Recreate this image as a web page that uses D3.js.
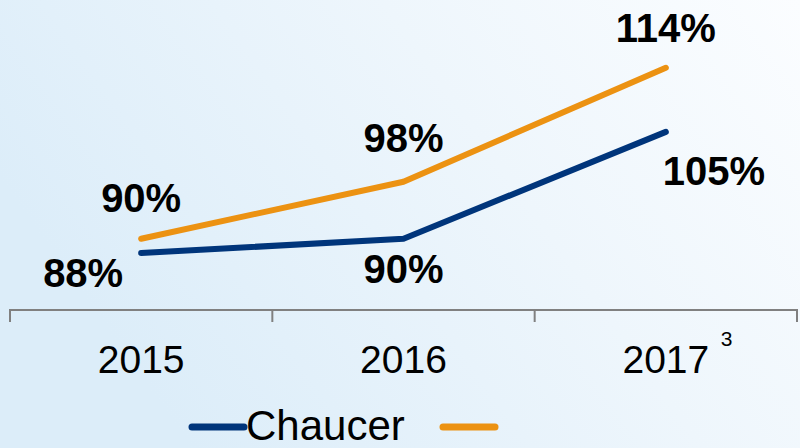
<!DOCTYPE html>
<html>
<head>
<meta charset="utf-8">
<script src="https://cdn.jsdelivr.net/npm/d3@7"></script>
<style>
  html, body { margin: 0; padding: 0; }
  body { width: 800px; height: 448px; overflow: hidden; }
  text { font-family: "Liberation Sans", Arial, sans-serif; }
</style>
</head>
<body>
<div id="chart"></div>
<script>
'use strict';

// chart data
const years = ['2015', '2016', '2017'];
const chaucer = [88, 90, 105];
const market = [90, 98, 114];
const seriesNames = ['Chaucer', ''];
const yearNotes = ['', '', '3'];

const width = 800;
const height = 448;

const svg = d3.select('#chart')
    .append('svg')
    .attr('width', width)
    .attr('height', height);

const defs = svg.append('defs');
const grad = defs.append('linearGradient')
    .attr('id', 'bg')
    .attr('x1', '0%').attr('y1', '40%')
    .attr('x2', '100%').attr('y2', '0%');
grad.append('stop').attr('offset', '0%').attr('stop-color', '#dcedf9');
grad.append('stop').attr('offset', '55%').attr('stop-color', '#eef6fc');
grad.append('stop').attr('offset', '100%').attr('stop-color', '#fbfdff');

svg.append('rect')
    .attr('width', width)
    .attr('height', height)
    .attr('fill', 'url(#bg)');

const x = d3.scaleBand()
    .domain(years)
    .range([10, 797]);

const y = d3.scaleLinear()
    .domain([80, 114])
    .range([310, 67.75]);

const cx = d => x(d) + x.bandwidth() / 2;

// axis: baseline with ticks on band edges
const axis = svg.append('g');
const edges = years.map(d => x(d)).concat([x.range()[1]]);
axis.append('line')
    .attr('x1', x.range()[0]).attr('x2', x.range()[1])
    .attr('y1', y(80)).attr('y2', y(80))
    .attr('stroke', '#808080')
    .attr('stroke-width', 2);
axis.selectAll('.tick')
    .data(edges)
    .enter()
    .append('line')
    .attr('x1', d => d).attr('x2', d => d)
    .attr('y1', y(80) - 1).attr('y2', y(80) + 12)
    .attr('stroke', '#808080')
    .attr('stroke-width', 2);

axis.selectAll('.year')
    .data(years)
    .enter()
    .append('text')
    .attr('x', d => cx(d))
    .attr('y', 373)
    .attr('text-anchor', 'middle')
    .attr('font-size', 39)
    .attr('fill', '#000')
    .text(d => d);

axis.selectAll('.note')
    .data(years.filter((d, i) => yearNotes[i]))
    .enter()
    .append('text')
    .attr('x', d => cx(d) + 55)
    .attr('y', 346)
    .attr('font-size', 21)
    .attr('fill', '#000')
    .text(d => yearNotes[years.indexOf(d)]);

const line = d3.line()
    .x(d => cx(d.year))
    .y(d => y(d.value));

const series = [
    { name: seriesNames[0], color: '#00357b', values: years.map((d, i) => ({ year: d, value: chaucer[i] })) },
    { name: seriesNames[1], color: '#ec9212', values: years.map((d, i) => ({ year: d, value: market[i] })) }
];

svg.selectAll('.series')
    .data(series)
    .enter()
    .append('path')
    .attr('d', d => line(d.values))
    .attr('fill', 'none')
    .attr('stroke', d => d.color)
    .attr('stroke-width', 6)
    .attr('stroke-linecap', 'round')
    .attr('stroke-linejoin', 'round');

// label offsets relative to each point (placement only)
const labelOffsets = [
    [[-58, 34], [0, 44], [48, 53]],
    [[0, -27], [0, -30], [0, -26]]
];

series.forEach((s, si) => {
    svg.selectAll('.lbl' + si)
        .data(s.values)
        .enter()
        .append('text')
        .attr('x', (d, i) => cx(d.year) + labelOffsets[si][i][0])
        .attr('y', (d, i) => y(d.value) + labelOffsets[si][i][1])
        .attr('text-anchor', 'middle')
        .attr('font-size', 40)
        .attr('font-weight', 'bold')
        .attr('fill', '#000')
        .text(d => d.value + '%');
});

// legend
const legend = svg.append('g');
const legendX = [192, 443];
series.forEach((s, i) => {
    legend.append('line')
        .attr('x1', legendX[i]).attr('x2', legendX[i] + 52)
        .attr('y1', 427).attr('y2', 427)
        .attr('stroke', s.color)
        .attr('stroke-width', 7)
        .attr('stroke-linecap', 'round');
    legend.append('text')
        .attr('x', legendX[i] + 54)
        .attr('y', 440)
        .attr('font-size', 42)
        .attr('fill', '#000')
        .text(s.name);
});
</script>
</body>
</html>
